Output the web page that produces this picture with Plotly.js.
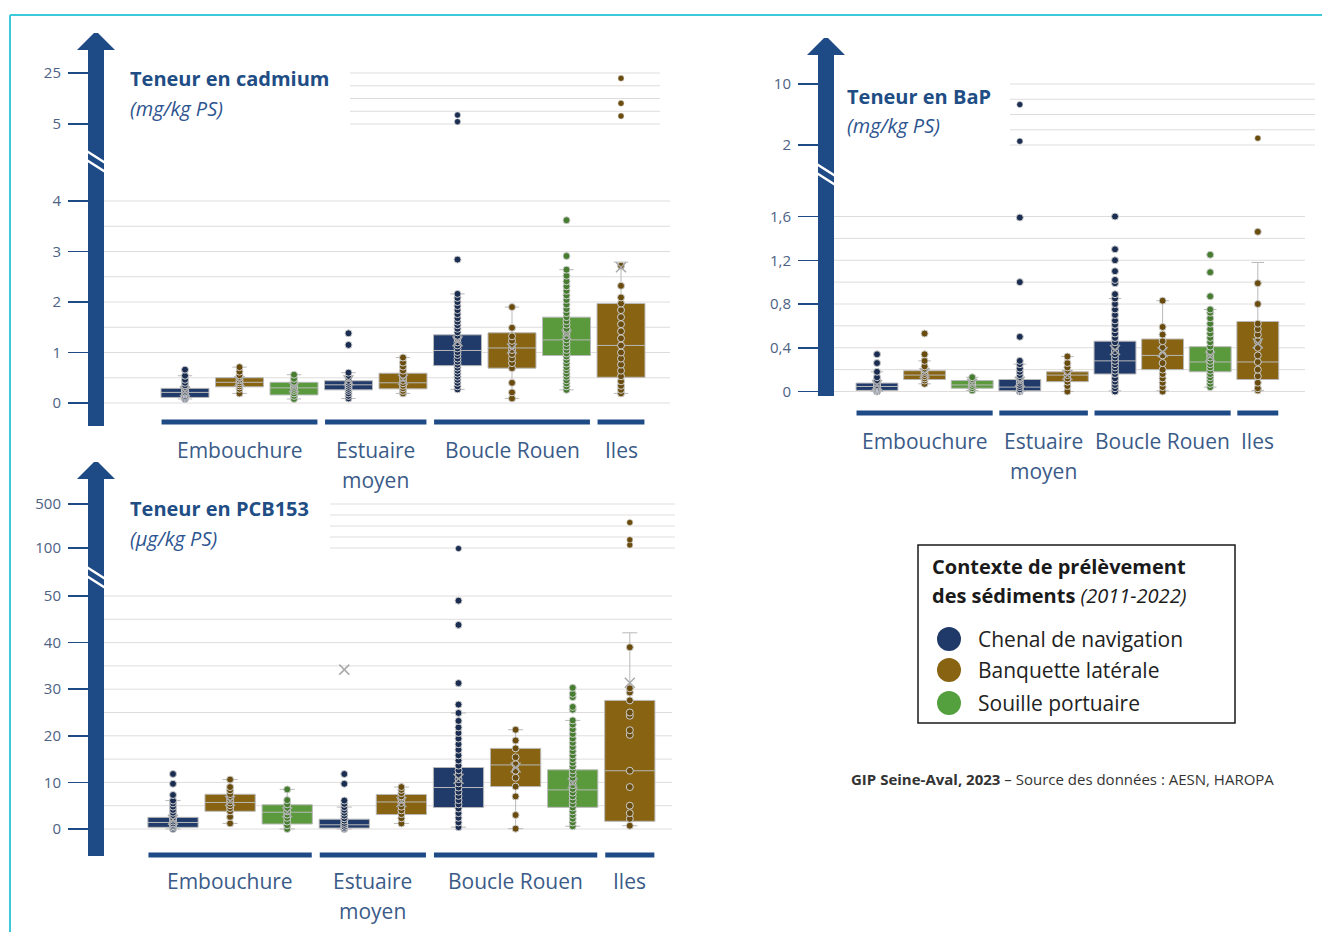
<!DOCTYPE html>
<html>
<head>
<meta charset="utf-8">
<script src="https://cdn.plot.ly/plotly-3.0.1.min.js"></script>
<style>
  html, body { margin: 0; padding: 0; background: #ffffff; }
  #chart { width: 1322px; height: 932px; }
</style>
</head>
<body>
<div id="chart"></div>
<script>
// ---------- categories ----------
const groups = ['Embouchure', 'Estuaire<br>moyen', 'Boucle Rouen', 'Iles'];
const contexts = ['Chenal de navigation', 'Banquette latérale', 'Souille portuaire'];
// each box slot: its river section and its sampling context
const boxGroup = [0, 0, 0, 1, 1, 2, 2, 2, 3];
const boxContext = [0, 1, 2, 0, 1, 0, 1, 2, 1];

// ---------- cadmium (mg/kg PS) ----------
const cdQ1 = [0.11, 0.32, 0.16, 0.26, 0.28, 0.74, 0.69, 0.94, 0.51];
const cdMedian = [0.21, 0.41, 0.30, 0.36, 0.40, 1.04, 1.09, 1.25, 1.14];
const cdQ3 = [0.29, 0.50, 0.41, 0.44, 0.59, 1.35, 1.39, 1.70, 1.97];
const cdLow = [0.08, 0.19, 0.08, 0.09, 0.19, 0.27, 0.09, 0.26, 0.19];
const cdHigh = [0.54, 0.71, 0.56, 0.60, 0.90, 2.16, 1.90, 2.64, 2.79];
const cdMean = [0.23, 0.43, 0.31, 0.45, 0.46, 1.22, 1.08, 1.35, 2.69];
const cdPoints = [
  [0.08, 0.10, 0.12, 0.14, 0.17, 0.19, 0.21, 0.24, 0.27, 0.31, 0.35, 0.40, 0.46, 0.54, 0.66],
  [0.19, 0.28, 0.33, 0.37, 0.41, 0.45, 0.50, 0.55, 0.62, 0.71],
  [0.08, 0.14, 0.19, 0.24, 0.28, 0.32, 0.37, 0.42, 0.48, 0.56],
  [0.09, 0.14, 0.19, 0.24, 0.28, 0.32, 0.36, 0.40, 0.44, 0.50, 0.60, 1.15, 1.38],
  [0.19, 0.24, 0.29, 0.34, 0.39, 0.44, 0.50, 0.56, 0.64, 0.72, 0.80, 0.90],
  [0.27, 0.33, 0.40, 0.46, 0.52, 0.58, 0.64, 0.70, 0.76, 0.82, 0.88, 0.95, 1.01, 1.08, 1.14, 1.20, 1.27, 1.33, 1.40, 1.47, 1.54, 1.61, 1.68, 1.76, 1.84, 1.92, 2.00, 2.08, 2.16, 2.84],
  [0.09, 0.21, 0.40, 0.69, 0.79, 0.88, 0.97, 1.05, 1.14, 1.23, 1.32, 1.49, 1.90],
  [0.26, 0.33, 0.39, 0.45, 0.52, 0.58, 0.65, 0.71, 0.78, 0.85, 0.92, 0.98, 1.05, 1.12, 1.19, 1.26, 1.33, 1.40, 1.47, 1.55, 1.62, 1.70, 1.78, 1.86, 1.95, 2.04, 2.13, 2.22, 2.31, 2.41, 2.52, 2.64, 2.91, 3.62],
  [0.19, 0.26, 0.34, 0.43, 0.53, 0.64, 0.76, 0.88, 1.00, 1.14, 1.28, 1.42, 1.56, 1.70, 1.84, 1.97, 2.09, 2.32, 2.72]
];
const cdHighPoints = [[], [], [], [], [], [5.9, 8.5], [], [], [8.1, 13.1, 22.9]];
const cdTicks = [0, 1, 2, 3, 4];
const cdTickText = ['0', '1', '2', '3', '4'];
const cdGrid = [0, 0.5, 1, 1.5, 2, 2.5, 3, 3.5, 4];
const cdHighTicks = [5, 25];
const cdHighTickText = ['5', '25'];
const cdHighGrid = [5, 10, 15, 20, 25];

// ---------- benzo(a)pyrène (mg/kg PS) ----------
const bapQ1 = [0.01, 0.11, 0.03, 0.006, 0.09, 0.16, 0.20, 0.18, 0.11];
const bapMedian = [0.046, 0.15, 0.06, 0.04, 0.15, 0.28, 0.33, 0.27, 0.27];
const bapQ3 = [0.077, 0.19, 0.10, 0.11, 0.18, 0.46, 0.48, 0.41, 0.64];
const bapLow = [0.0, 0.07, 0.01, 0.0, 0.0, 0.006, 0.006, 0.04, 0.01];
const bapHigh = [0.18, 0.28, 0.13, 0.25, 0.32, 0.85, 0.83, 0.75, 1.18];
const bapMean = [0.06, 0.17, 0.07, 0.09, 0.15, 0.38, 0.36, 0.32, 0.44];
const bapPoints = [
  [0.0, 0.01, 0.02, 0.03, 0.04, 0.05, 0.06, 0.08, 0.10, 0.13, 0.18, 0.26, 0.34],
  [0.07, 0.10, 0.12, 0.14, 0.16, 0.18, 0.20, 0.23, 0.28, 0.34, 0.53],
  [0.01, 0.03, 0.05, 0.07, 0.09, 0.11, 0.13],
  [0.0, 0.01, 0.02, 0.04, 0.06, 0.08, 0.10, 0.12, 0.15, 0.18, 0.21, 0.25, 0.28, 0.50, 1.00, 1.59],
  [0.0, 0.05, 0.09, 0.12, 0.15, 0.18, 0.22, 0.26, 0.32],
  [0.0, 0.03, 0.06, 0.09, 0.12, 0.16, 0.19, 0.22, 0.25, 0.28, 0.31, 0.34, 0.37, 0.41, 0.45, 0.49, 0.53, 0.57, 0.61, 0.65, 0.70, 0.75, 0.80, 0.85, 0.89, 0.99, 1.02, 1.10, 1.20, 1.30, 1.60],
  [0.0, 0.04, 0.08, 0.12, 0.16, 0.20, 0.26, 0.33, 0.40, 0.46, 0.52, 0.59, 0.83],
  [0.04, 0.07, 0.10, 0.13, 0.16, 0.19, 0.22, 0.25, 0.28, 0.31, 0.34, 0.37, 0.41, 0.45, 0.49, 0.53, 0.57, 0.62, 0.67, 0.72, 0.75, 0.87, 1.09, 1.25],
  [0.01, 0.03, 0.08, 0.14, 0.20, 0.27, 0.33, 0.40, 0.46, 0.52, 0.57, 0.62, 0.80, 0.99, 1.46]
];
const bapHighPoints = [[], [], [], [2.5, 7.3], [], [], [], [], [2.9]];
const bapTicks = [0, 0.4, 0.8, 1.2, 1.6];
const bapTickText = ['0', '0,4', '0,8', '1,2', '1,6'];
const bapGrid = [0, 0.2, 0.4, 0.6, 0.8, 1.0, 1.2, 1.4, 1.6];
const bapHighTicks = [2, 10];
const bapHighTickText = ['2', '10'];
const bapHighGrid = [2, 4, 6, 8, 10];

// ---------- PCB153 (µg/kg PS) ----------
const pcbQ1 = [0.36, 3.8, 1.07, 0.2, 3.1, 4.6, 9.1, 4.65, 1.65];
const pcbMedian = [1.4, 5.7, 3.6, 0.9, 5.8, 8.9, 13.75, 8.4, 12.5];
const pcbQ3 = [2.5, 7.45, 5.2, 2.1, 7.4, 13.2, 17.3, 12.7, 27.6];
const pcbLow = [0.0, 1.2, 0.0, 0.0, 1.2, 0.4, 0.07, 0.6, 0.7];
const pcbHigh = [6.1, 10.6, 8.5, 4.7, 9.0, 24.9, 21.3, 23.3, 42.1];
const pcbMean = [2.0, 6.0, 3.6, 34.2, 5.8, 10.8, 13.2, 9.8, 31.4];
const pcbPoints = [
  [0.0, 0.3, 0.6, 0.9, 1.2, 1.6, 2.0, 2.4, 2.9, 3.5, 4.1, 4.8, 5.5, 6.1, 7.3, 9.7, 11.8],
  [1.2, 2.6, 3.8, 4.5, 5.1, 5.7, 6.3, 6.9, 7.5, 8.3, 9.0, 10.6],
  [0.0, 0.8, 1.6, 2.4, 3.1, 3.8, 4.5, 5.3, 6.2, 8.5],
  [0.0, 0.2, 0.5, 0.9, 1.3, 1.8, 2.3, 2.9, 3.5, 4.1, 4.7, 5.4, 6.1, 9.7, 11.8],
  [1.2, 2.3, 3.2, 4.0, 4.8, 5.6, 6.3, 7.0, 7.7, 8.4, 9.0],
  [0.4, 1.4, 2.4, 3.4, 4.4, 5.3, 6.2, 7.1, 8.0, 8.9, 9.8, 10.7, 11.6, 12.6, 13.6, 14.7, 15.8, 17.0, 18.2, 19.4, 20.6, 21.8, 23.2, 24.9, 26.7, 31.3, 43.8, 49.0],
  [0.07, 3.0, 7.0, 9.1, 11.0, 12.5, 13.9, 15.4, 17.3, 19.0, 21.3],
  [0.6, 1.4, 2.2, 3.0, 3.8, 4.6, 5.4, 6.2, 7.0, 7.8, 8.6, 9.4, 10.2, 11.0, 11.8, 12.6, 13.4, 14.2, 15.0, 15.8, 16.7, 17.6, 18.5, 19.4, 20.4, 21.4, 22.4, 23.3, 25.6, 26.2, 28.3, 29.0, 30.3],
  [0.7, 2.2, 3.4, 5.0, 9.0, 12.5, 20.2, 21.2, 24.3, 25.0, 27.6, 29.3, 30.2, 39.0]
];
const pcbHighPoints = [[], [], [], [], [], [95], [], [], [128, 174, 332]];
const pcbTicks = [0, 10, 20, 30, 40, 50];
const pcbTickText = ['0', '10', '20', '30', '40', '50'];
const pcbGrid = [0, 5, 10, 15, 20, 25, 30, 35, 40, 45, 50];
const pcbHighTicks = [100, 500];
const pcbHighTickText = ['100', '500'];
const pcbHighGrid = [100, 200, 300, 400, 500];

// ---------- styling ----------
const W = 1322, H = 932;
const FONT = '"Open Sans", "Noto Sans", sans-serif';
const ARROW = '#1e4a85';
const TITLE_COLOR = '#214d85';
const LABEL_COLOR = '#3b5b88';
const TICK_COLOR = '#4d6283';
const GRID_COLOR = '#e0dcdc';
const BOX_FILL = ['#203a6a', '#876312', '#5a9a3c'];
const DOT_FILL = ['#1b2d50', '#6a4d0e', '#477d30'];
const BOX_LINE = '#b9b9b9';

const px = x => x / W;
const py = y => 1 - y / H;

// panel geometry in page pixels
const panels = [
  {
    title: 'Teneur en cadmium', unit: '(mg/kg PS)', titleX: 128, titleY: 79, unitY: 108,
    xa: 'x', ya: 'y', yb: 'y2', xDom: [100, 670], slot0: 185, step: 54.5,
    arrowX: 96, arrowTip: 33, arrowBottom: 426, breakY: 158,
    low: { dom: [190, 418], p0: 403, v0: 0, p1: 201, v1: 4 },
    high: { dom: [66, 130], p0: 124, v0: 5, p1: 73, v1: 25 },
    highGridX: [350, 660], barY: 422, labelY: 450,
    data: { q1: cdQ1, med: cdMedian, q3: cdQ3, lo: cdLow, hi: cdHigh, mean: cdMean, pts: cdPoints, up: cdHighPoints,
            ticks: cdTicks, tickText: cdTickText, grid: cdGrid, hTicks: cdHighTicks, hTickText: cdHighTickText, hGrid: cdHighGrid }
  },
  {
    title: 'Teneur en BaP', unit: '(mg/kg PS)', titleX: 845, titleY: 97, unitY: 126,
    xa: 'x2', ya: 'y3', yb: 'y4', xDom: [832, 1305], slot0: 877, step: 47.6,
    arrowX: 826, arrowTip: 38, arrowBottom: 396, breakY: 171,
    low: { dom: [205, 402], p0: 391.5, v0: 0, p1: 216.5, v1: 1.6 },
    high: { dom: [78, 152], p0: 145, v0: 2, p1: 84, v1: 10 },
    highGridX: [1010, 1315], barY: 413, labelY: 441,
    data: { q1: bapQ1, med: bapMedian, q3: bapQ3, lo: bapLow, hi: bapHigh, mean: bapMean, pts: bapPoints, up: bapHighPoints,
            ticks: bapTicks, tickText: bapTickText, grid: bapGrid, hTicks: bapHighTicks, hTickText: bapHighTickText, hGrid: bapHighGrid }
  },
  {
    title: 'Teneur en PCB153', unit: '(µg/kg PS)', titleX: 128, titleY: 508, unitY: 538,
    xa: 'x3', ya: 'y5', yb: 'y6', xDom: [100, 672], slot0: 173, step: 57.1,
    arrowX: 96, arrowTip: 462, arrowBottom: 856, breakY: 574,
    low: { dom: [585, 845], p0: 829, v0: 0, p1: 596, v1: 50 },
    high: { dom: [498, 556], p0: 548, v0: 100, p1: 504, v1: 500 },
    highGridX: [330, 675], barY: 855, labelY: 881,
    data: { q1: pcbQ1, med: pcbMedian, q3: pcbQ3, lo: pcbLow, hi: pcbHigh, mean: pcbMean, pts: pcbPoints, up: pcbHighPoints,
            ticks: pcbTicks, tickText: pcbTickText, grid: pcbGrid, hTicks: pcbHighTicks, hTickText: pcbHighTickText, hGrid: pcbHighGrid }
  }
];

const traces = [];
const shapes = [];
const annotations = [];
const layout = {
  width: W, height: H,
  margin: { l: 0, r: 0, t: 0, b: 0 },
  paper_bgcolor: '#ffffff', plot_bgcolor: 'rgba(0,0,0,0)',
  showlegend: false,
  font: { family: FONT, color: LABEL_COLOR },
  boxmode: 'overlay'
};

const axName = id => id.replace(/^x/, 'xaxis').replace(/^y/, 'yaxis');

function valueAxis(spec, ticks, tickText, axisX) {
  const k = (spec.v1 - spec.v0) / (spec.p1 - spec.p0);
  const val = p => spec.v0 + (p - spec.p0) * k;
  return {
    domain: [py(spec.dom[1]), py(spec.dom[0])],
    range: [val(spec.dom[1]), val(spec.dom[0])],
    anchor: 'free', position: px(axisX),
    tickmode: 'array', tickvals: ticks, ticktext: tickText,
    ticks: 'outside', ticklen: 20, tickwidth: 1.5, tickcolor: ARROW, ticklabelstandoff: 4,
    tickfont: { family: FONT, size: 15, color: TICK_COLOR },
    showgrid: false, zeroline: false, showline: false, automargin: false, fixedrange: true
  };
}

function arrowPath(cx, tip, bottom) {
  const sw = 8, hw = 19, hh = 17;
  const pts = [
    [cx - sw, bottom], [cx - sw, tip + hh], [cx - hw, tip + hh], [cx - 2, tip],
    [cx + 2, tip], [cx + hw, tip + hh], [cx + sw, tip + hh], [cx + sw, bottom]
  ];
  return 'M' + pts.map(p => px(p[0]).toFixed(5) + ',' + py(p[1]).toFixed(5)).join(' L') + ' Z';
}

panels.forEach(P => {
  const d = P.data;
  const axisX = P.arrowX - 8;

  // slot axis
  layout[axName(P.xa)] = {
    domain: [px(P.xDom[0]), px(P.xDom[1])],
    range: [(P.xDom[0] - P.slot0) / P.step, (P.xDom[1] - P.slot0) / P.step],
    anchor: P.ya, visible: false, fixedrange: true
  };
  // broken value axis: main part and upper part
  layout[axName(P.ya)] = valueAxis(P.low, d.ticks, d.tickText, axisX);
  layout[axName(P.yb)] = valueAxis(P.high, d.hTicks, d.hTickText, axisX);

  // gridlines
  d.grid.forEach(v => shapes.push({
    type: 'line', layer: 'below', xref: 'paper', yref: P.ya,
    x0: px(P.xDom[0]), x1: px(P.xDom[1]), y0: v, y1: v,
    line: { color: GRID_COLOR, width: 1 }
  }));
  d.hGrid.forEach(v => shapes.push({
    type: 'line', layer: 'below', xref: 'paper', yref: P.yb,
    x0: px(P.highGridX[0]), x1: px(P.highGridX[1]), y0: v, y1: v,
    line: { color: GRID_COLOR, width: 1 }
  }));

  // boxes, individual samples and means
  for (let i = 0; i < boxGroup.length; i++) {
    const c = boxContext[i];
    traces.push({
      type: 'box', name: contexts[c], x: [i],
      q1: [d.q1[i]], median: [d.med[i]], q3: [d.q3[i]],
      lowerfence: [d.lo[i]], upperfence: [d.hi[i]],
      xaxis: P.xa, yaxis: P.ya,
      fillcolor: BOX_FILL[c], line: { color: BOX_LINE, width: 1 },
      width: 0.88, whiskerwidth: 0.3, boxpoints: false, hoverinfo: 'skip'
    });
    traces.push({
      type: 'scatter', mode: 'markers', name: contexts[c],
      x: d.pts[i].map(() => i), y: d.pts[i], xaxis: P.xa, yaxis: P.ya,
      marker: { size: 7, color: DOT_FILL[c], line: { color: '#cfcfcf', width: 1 } },
      hoverinfo: 'skip', cliponaxis: false
    });
    if (d.up[i].length) {
      traces.push({
        type: 'scatter', mode: 'markers', name: contexts[c],
        x: d.up[i].map(() => i), y: d.up[i], xaxis: P.xa, yaxis: P.yb,
        marker: { size: 6, color: DOT_FILL[c], line: { color: '#d8d8d8', width: 0.5 } },
        hoverinfo: 'skip', cliponaxis: false
      });
    }
    traces.push({
      type: 'scatter', mode: 'markers', name: contexts[c],
      x: [i], y: [d.mean[i]], xaxis: P.xa, yaxis: P.ya,
      marker: { symbol: 'x-thin', size: 10, color: '#a9a9a9', line: { color: '#a9a9a9', width: 1.5 } },
      hoverinfo: 'skip', cliponaxis: false
    });
  }

  // vertical arrow carrying the value axis, with its break marks
  shapes.push({
    type: 'path', xref: 'paper', yref: 'paper', layer: 'above',
    path: arrowPath(P.arrowX, P.arrowTip, P.arrowBottom),
    fillcolor: ARROW, line: { width: 0 }
  });
  [0, 9].forEach(off => shapes.push({
    type: 'line', xref: 'paper', yref: 'paper', layer: 'above',
    x0: px(P.arrowX - 11), y0: py(P.breakY - 8 + off),
    x1: px(P.arrowX + 11), y1: py(P.breakY + 6 + off),
    line: { color: '#ffffff', width: 2.5 }
  }));

  // section underlines and labels
  groups.forEach((g, gi) => {
    const slots = boxGroup.map((b, i) => b === gi ? i : null).filter(v => v !== null);
    const first = slots[0], last = slots[slots.length - 1];
    shapes.push({
      type: 'line', xref: P.xa, yref: 'paper',
      x0: first - 0.43, x1: last + 0.43, y0: py(P.barY), y1: py(P.barY),
      line: { color: ARROW, width: 5 }
    });
    g.split('<br>').forEach((line, li) => annotations.push({
      xref: P.xa, yref: 'paper', x: (first + last) / 2, y: py(P.labelY + 30 * li),
      text: line, showarrow: false, xanchor: 'center', yanchor: 'middle',
      font: { family: FONT, size: 21, color: LABEL_COLOR }
    }));
  });

  // panel title
  annotations.push({
    xref: 'paper', yref: 'paper', x: px(P.titleX), y: py(P.titleY),
    text: '<b>' + P.title + '</b>', showarrow: false, xanchor: 'left', yanchor: 'middle',
    font: { family: FONT, size: 20, color: TITLE_COLOR }
  });
  annotations.push({
    xref: 'paper', yref: 'paper', x: px(P.titleX), y: py(P.unitY),
    text: '<i>' + P.unit + '</i>', showarrow: false, xanchor: 'left', yanchor: 'middle',
    font: { family: FONT, size: 20, color: '#2d5490' }
  });
});

// legend box
shapes.push({
  type: 'rect', xref: 'paper', yref: 'paper',
  x0: px(918), x1: px(1235), y0: py(723), y1: py(545),
  line: { color: '#1a1a1a', width: 1.5 }, fillcolor: 'rgba(0,0,0,0)'
});
annotations.push({
  xref: 'paper', yref: 'paper', x: px(930), y: py(566),
  text: '<b>Contexte de prélèvement</b>', showarrow: false, xanchor: 'left', yanchor: 'middle',
  font: { family: FONT, size: 20, color: '#1a1a1a' }
});
annotations.push({
  xref: 'paper', yref: 'paper', x: px(930), y: py(595),
  text: '<b>des sédiments</b> <i>(2011-2022)</i>', showarrow: false, xanchor: 'left', yanchor: 'middle',
  font: { family: FONT, size: 20, color: '#1a1a1a' }
});
const legendY = [639, 670, 703];
const legendDot = ['#1f3a68', '#876312', '#55a03e'];
contexts.forEach((name, i) => {
  shapes.push({
    type: 'circle', xref: 'paper', yref: 'paper',
    x0: px(937), x1: px(961), y0: py(legendY[i] + 12), y1: py(legendY[i] - 12),
    fillcolor: legendDot[i], line: { width: 0 }
  });
  annotations.push({
    xref: 'paper', yref: 'paper', x: px(976), y: py(legendY[i]),
    text: name, showarrow: false, xanchor: 'left', yanchor: 'middle',
    font: { family: FONT, size: 21, color: '#222222' }
  });
});

// source line
annotations.push({
  xref: 'paper', yref: 'paper', x: px(849), y: py(779),
  text: '<b>GIP Seine-Aval, 2023</b> – Source des données : AESN, HAROPA',
  showarrow: false, xanchor: 'left', yanchor: 'middle',
  font: { family: FONT, size: 15, color: '#333333' }
});

// page frame
shapes.push({ type: 'line', xref: 'paper', yref: 'paper', x0: px(10), x1: 1, y0: py(15), y1: py(15), line: { color: '#3cc9da', width: 2 } });
shapes.push({ type: 'line', xref: 'paper', yref: 'paper', x0: px(10), x1: px(10), y0: py(15), y1: 0, line: { color: '#3cc9da', width: 2 } });

layout.shapes = shapes;
layout.annotations = annotations;

Plotly.newPlot('chart', traces, layout, { staticPlot: true, displayModeBar: false });
</script>
</body>
</html>
